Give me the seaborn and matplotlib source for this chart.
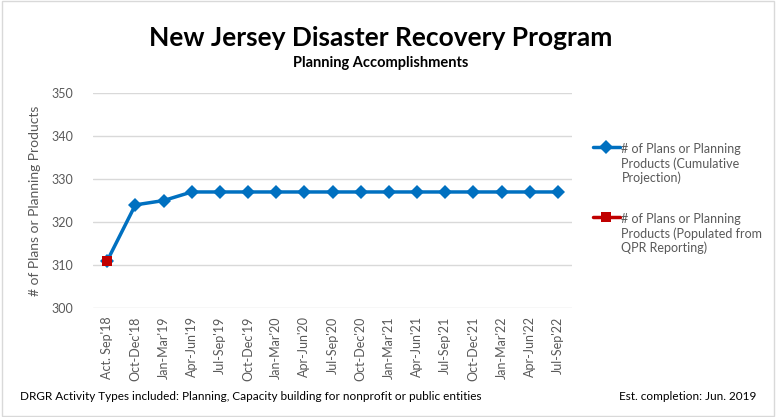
import pandas as pd
import seaborn as sns
import matplotlib.pyplot as plt
from matplotlib.patches import Rectangle

quarters = ["Act. Sep'18", "Oct-Dec'18", "Jan-Mar'19", "Apr-Jun'19", "Jul-Sep'19",
            "Oct-Dec'19", "Jan-Mar'20", "Apr-Jun'20", "Jul-Sep'20", "Oct-Dec'20",
            "Jan-Mar'21", "Apr-Jun'21", "Jul-Sep'21", "Oct-Dec'21", "Jan-Mar'22",
            "Apr-Jun'22", "Jul-Sep'22"]
projection = [311, 324, 325, 327, 327, 327, 327, 327, 327, 327, 327, 327, 327, 327, 327, 327, 327]
actual_quarters = ["Act. Sep'18"]
actual = [311]

proj_label = "# of Plans or Planning\nProducts (Cumulative\nProjection)"
act_label = "# of Plans or Planning\nProducts (Populated from\nQPR Reporting)"

df = pd.DataFrame({"quarter": quarters, "value": projection})
df["pos"] = range(len(quarters))
df_act = pd.DataFrame({"quarter": actual_quarters, "value": actual})
df_act["pos"] = [quarters.index(q) for q in actual_quarters]

sns.set_style("white")
plt.rcParams['font.family'] = ['Lato', 'DejaVu Sans']

fig = plt.figure(figsize=(7.76, 4.17), dpi=100)
ax = fig.add_axes([0.12, 0.261, 0.617, 0.516])

sns.lineplot(data=df, x="pos", y="value", ax=ax, color="#0070C0", linewidth=2.5,
             marker="D", markersize=7, markeredgewidth=0, label=proj_label)
sns.lineplot(data=df_act, x="pos", y="value", ax=ax, color="#C00000", linewidth=2.5,
             marker="s", markersize=7, markeredgewidth=0, label=act_label)

ax.set_xlim(-0.5, len(quarters) - 0.5)
ax.set_ylim(300, 350)
ax.set_yticks(range(300, 351, 10))
ax.set_xticks(range(len(quarters)))
ax.set_xticklabels(quarters, rotation=90, fontsize=9, color="#595959")
ax.tick_params(axis="y", labelsize=9, labelcolor="#595959", length=0, pad=14)
ax.tick_params(axis="x", length=0, pad=6)
ax.grid(axis="y", color="#D9D9D9", linewidth=1)
ax.set_axisbelow(True)
for s in ax.spines.values():
    s.set_visible(False)
ax.set_xlabel("")
ax.set_ylabel("# of Plans or Planning Products", fontsize=10, color="#595959", labelpad=8)

leg = ax.legend(loc="upper left", bbox_to_anchor=(1.02, 0.82), frameon=False, fontsize=9,
                labelcolor="#595959", handlelength=2.2, handletextpad=0.1, labelspacing=2.3)
# put the handle next to the first line of each label, like Excel
for col in leg._legend_handle_box.get_children():
    for item in col.get_children():
        item.align = "top"

fig.text(0.49, 0.91, "New Jersey Disaster Recovery Program", ha="center", va="center",
         fontsize=19, fontweight="bold", color="black")
fig.text(0.49, 0.848, "Planning Accomplishments", ha="center", va="center",
         fontsize=10.5, fontweight="bold", color="black")
fig.text(0.026, 0.05, "DRGR Activity Types included: Planning, Capacity building for nonprofit or public entities",
         ha="left", va="center", fontsize=8.5, color="black")
fig.text(0.975, 0.05, "Est. completion: Jun. 2019", ha="right", va="center",
         fontsize=8.5, color="black")

fig.patches.append(Rectangle((0.002, 0.003), 0.996, 0.994, transform=fig.transFigure,
                             fill=False, edgecolor="#D9D9D9", linewidth=1))

fig.savefig("out.png", dpi=100)
